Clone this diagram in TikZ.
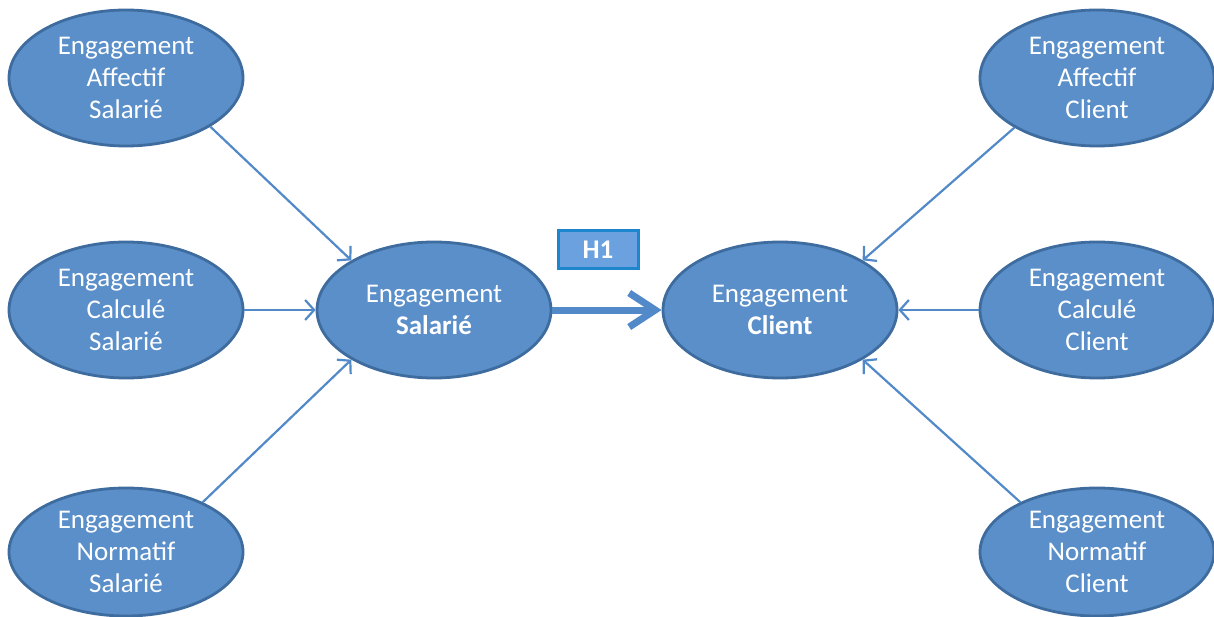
\documentclass[tikz,border=0pt]{standalone}
\usepackage{fontspec}
\setmainfont{Carlito}
\usetikzlibrary{shapes.geometric,arrows.meta}
\definecolor{ellfill}{HTML}{5B8FC9}
\definecolor{elldraw}{HTML}{3E6C9E}
\definecolor{linkcol}{HTML}{5289C8}
\definecolor{hfill}{HTML}{6AA1DE}
\definecolor{hdraw}{HTML}{1E86CD}
\begin{document}
\begin{tikzpicture}[x=1pt,y=-1pt,
  ell/.style={ellipse, fill=ellfill, draw=elldraw, line width=2.8pt, inner sep=0pt,
    minimum width=234pt, minimum height=136pt, text=white, align=center,
    font=\fontsize{27}{32}\selectfont},
  ellb/.style={ell, minimum height=128pt},
  link/.style={draw=linkcol, line width=2.2pt, -{Straight Barb[length=9pt,width=20pt]}},
  mainlink/.style={draw=linkcol, line width=7pt, -{Straight Barb[length=26pt,width=34pt]}},
  hbox/.style={rectangle, fill=hfill, draw=hdraw, line width=3pt, minimum width=80pt,
    minimum height=38pt, inner sep=0pt, text=white, font=\fontsize{27}{30}\selectfont\bfseries}
]
\useasboundingbox (0,0) rectangle (1214,617);

\node[ell] (tl) at (126,78) {Engagement\\Affectif\\Salarié};
\node[ell] (ml) at (126,310) {Engagement\\Calculé\\Salarié};
\node[ellb] (bl) at (126,552) {Engagement\\Normatif\\Salarié};

\node[ell] (sal) at (434,310) {Engagement\\\textbf{Salarié}};
\node[ell] (cli) at (780,310) {Engagement\\\textbf{Client}};

\node[ell] (tr) at (1097,78) {Engagement\\Affectif\\Client};
\node[ell] (mr) at (1097,310) {Engagement\\Calculé\\Client};
\node[ellb] (br) at (1097,552) {Engagement\\Normatif\\Client};

\node[hbox] (h1) at (598,250) {H1};

\draw[link] (tl.-30) -- (sal.149);
\draw[link] (ml.east) -- (sal.west);
\draw[link] (bl.33) -- (sal.-149);

\draw[link] (tr.-149) -- (cli.31);
\draw[link] (mr.west) -- (cli.east);
\draw[link] (br.147) -- (cli.-31);

\draw[mainlink] (sal.east) -- (cli.west);
\end{tikzpicture}
\end{document}
